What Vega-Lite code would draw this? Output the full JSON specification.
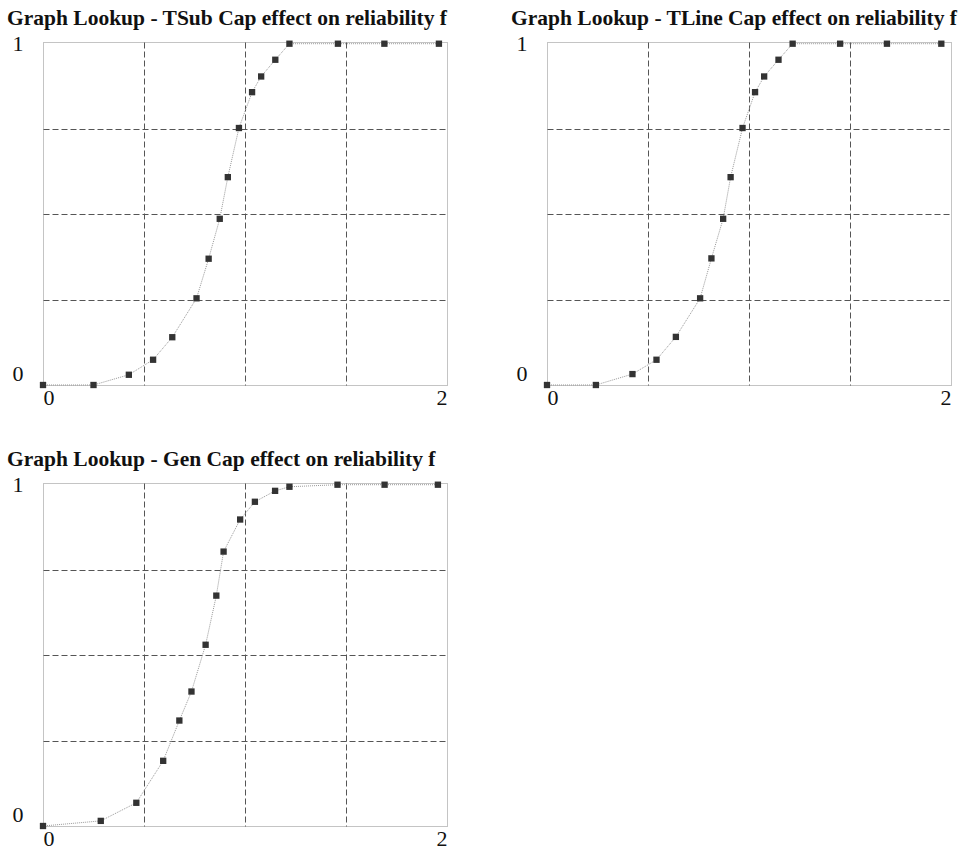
{
  "$schema": "https://vega.github.io/schema/vega-lite/v6.json",
  "background": "white",
  "padding": {"left": 6, "top": 7, "right": 4, "bottom": 2},
  "datasets": {
    "tsub": [
      {"x": 0, "y": 0}, {"x": 0.25, "y": 0}, {"x": 0.425, "y": 0.03}, {"x": 0.545, "y": 0.074},
      {"x": 0.64, "y": 0.14}, {"x": 0.76, "y": 0.254}, {"x": 0.82, "y": 0.37}, {"x": 0.875, "y": 0.487},
      {"x": 0.915, "y": 0.609}, {"x": 0.97, "y": 0.753}, {"x": 1.035, "y": 0.858}, {"x": 1.08, "y": 0.904},
      {"x": 1.15, "y": 0.953}, {"x": 1.22, "y": 1}, {"x": 1.46, "y": 1}, {"x": 1.69, "y": 1}, {"x": 1.96, "y": 1}
    ],
    "tline": [
      {"x": 0, "y": 0}, {"x": 0.242, "y": 0}, {"x": 0.423, "y": 0.032}, {"x": 0.542, "y": 0.074},
      {"x": 0.638, "y": 0.141}, {"x": 0.758, "y": 0.254}, {"x": 0.814, "y": 0.371}, {"x": 0.872, "y": 0.487},
      {"x": 0.909, "y": 0.609}, {"x": 0.968, "y": 0.753}, {"x": 1.03, "y": 0.858}, {"x": 1.075, "y": 0.904},
      {"x": 1.146, "y": 0.953}, {"x": 1.216, "y": 1}, {"x": 1.451, "y": 1}, {"x": 1.683, "y": 1}, {"x": 1.952, "y": 1}
    ],
    "gen": [
      {"x": 0, "y": 0}, {"x": 0.286, "y": 0.015}, {"x": 0.462, "y": 0.068}, {"x": 0.595, "y": 0.191},
      {"x": 0.675, "y": 0.309}, {"x": 0.735, "y": 0.394}, {"x": 0.805, "y": 0.531}, {"x": 0.858, "y": 0.675},
      {"x": 0.894, "y": 0.804}, {"x": 0.976, "y": 0.898}, {"x": 1.049, "y": 0.95}, {"x": 1.149, "y": 0.982},
      {"x": 1.22, "y": 0.994}, {"x": 1.458, "y": 1}, {"x": 1.691, "y": 1}, {"x": 1.955, "y": 1}
    ]
  },
  "columns": 2,
  "spacing": {"row": 39, "column": 62},
  "concat": [
    {
      "title": "Graph Lookup - TSub Cap effect on reliability f",
      "width": 404, "height": 343,
      "data": {"name": "tsub"},
      "encoding": {
        "x": {"field": "x", "type": "quantitative", "scale": {"domain": [0, 2], "nice": false}, "axis": {"values": [0, 0.5, 1, 1.5, 2], "labelExpr": "datum.value == 0 ? '0' : datum.value == 2 ? '2' : ''", "gridColor": {"condition": {"test": "datum.value == 0 || datum.value == 2", "value": "transparent"}, "value": "#555"}}, "title": null},
        "y": {"field": "y", "type": "quantitative", "scale": {"domain": [0, 1.005], "nice": false}, "axis": {"values": [0, 0.25, 0.5, 0.75, 1], "labelExpr": "datum.value == 0 ? '0' : datum.value == 1 ? '1' : ''", "gridColor": {"condition": {"test": "datum.value == 0 || datum.value == 1", "value": "transparent"}, "value": "#555"}}, "title": null}
      },
      "layer": [
        {"mark": {"type": "line", "color": "#999", "strokeWidth": 1, "strokeDash": [1, 1]}},
        {"mark": {"type": "point", "shape": "square", "filled": true, "size": 40, "color": "#333", "opacity": 1}}
      ]
    },
    {
      "title": "Graph Lookup - TLine Cap effect on reliability f",
      "width": 404, "height": 343,
      "data": {"name": "tline"},
      "encoding": {
        "x": {"field": "x", "type": "quantitative", "scale": {"domain": [0, 2], "nice": false}, "axis": {"values": [0, 0.5, 1, 1.5, 2], "labelExpr": "datum.value == 0 ? '0' : datum.value == 2 ? '2' : ''", "gridColor": {"condition": {"test": "datum.value == 0 || datum.value == 2", "value": "transparent"}, "value": "#555"}}, "title": null},
        "y": {"field": "y", "type": "quantitative", "scale": {"domain": [0, 1.005], "nice": false}, "axis": {"values": [0, 0.25, 0.5, 0.75, 1], "labelExpr": "datum.value == 0 ? '0' : datum.value == 1 ? '1' : ''", "gridColor": {"condition": {"test": "datum.value == 0 || datum.value == 1", "value": "transparent"}, "value": "#555"}}, "title": null}
      },
      "layer": [
        {"mark": {"type": "line", "color": "#999", "strokeWidth": 1, "strokeDash": [1, 1]}},
        {"mark": {"type": "point", "shape": "square", "filled": true, "size": 40, "color": "#333", "opacity": 1}}
      ]
    },
    {
      "title": "Graph Lookup - Gen Cap effect on reliability f",
      "width": 404, "height": 343,
      "data": {"name": "gen"},
      "encoding": {
        "x": {"field": "x", "type": "quantitative", "scale": {"domain": [0, 2], "nice": false}, "axis": {"values": [0, 0.5, 1, 1.5, 2], "labelExpr": "datum.value == 0 ? '0' : datum.value == 2 ? '2' : ''", "gridColor": {"condition": {"test": "datum.value == 0 || datum.value == 2", "value": "transparent"}, "value": "#555"}}, "title": null},
        "y": {"field": "y", "type": "quantitative", "scale": {"domain": [0, 1.005], "nice": false}, "axis": {"values": [0, 0.25, 0.5, 0.75, 1], "labelExpr": "datum.value == 0 ? '0' : datum.value == 1 ? '1' : ''", "gridColor": {"condition": {"test": "datum.value == 0 || datum.value == 1", "value": "transparent"}, "value": "#555"}}, "title": null}
      },
      "layer": [
        {"mark": {"type": "line", "color": "#999", "strokeWidth": 1, "strokeDash": [1, 1]}},
        {"mark": {"type": "point", "shape": "square", "filled": true, "size": 40, "color": "#333", "opacity": 1}}
      ]
    }
  ],
  "config": {
    "font": "Liberation Serif",
    "view": {"stroke": "#888", "strokeDash": [1, 1], "strokeWidth": 1},
    "title": {"font": "Liberation Serif", "fontSize": 21.5, "fontWeight": "bold", "color": "#111", "anchor": "start", "offset": 3, "frame": "bounds", "dx": -5},
    "axis": {
      "domain": false, "ticks": false,
      "labelFont": "Liberation Serif", "labelFontSize": 22, "labelColor": "#111", "labelFlush": true,
      "grid": true, "gridDash": [6, 3], "gridWidth": 1
    },
    "axisY": {"labelPadding": 20},
    "axisX": {"labelPadding": 2}
  }
}
